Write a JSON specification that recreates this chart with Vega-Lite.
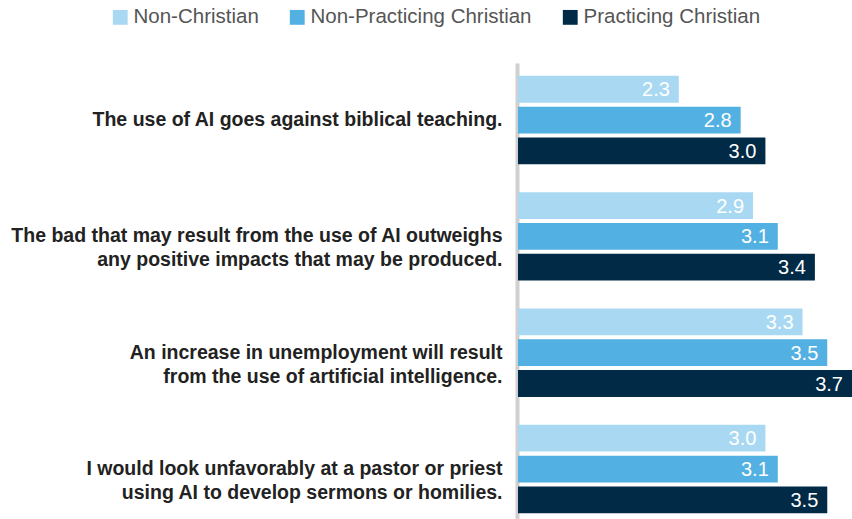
{
  "$schema": "https://vega.github.io/schema/vega-lite/v6.json",
  "width": 334,
  "height": 456,
  "autosize": "none",
  "padding": {"left": 518, "top": 63, "right": 0, "bottom": 0},
  "background": "white",
  "config": {"view": {"stroke": null}},
  "data": {
    "values": [
      {"question": "The use of AI goes against biblical teaching.", "group": "Non-Christian", "value": 2.3},
      {"question": "The use of AI goes against biblical teaching.", "group": "Non-Practicing Christian", "value": 2.8},
      {"question": "The use of AI goes against biblical teaching.", "group": "Practicing Christian", "value": 3.0},
      {"question": "The bad that may result from the use of AI outweighs|any positive impacts that may be produced.", "group": "Non-Christian", "value": 2.9},
      {"question": "The bad that may result from the use of AI outweighs|any positive impacts that may be produced.", "group": "Non-Practicing Christian", "value": 3.1},
      {"question": "The bad that may result from the use of AI outweighs|any positive impacts that may be produced.", "group": "Practicing Christian", "value": 3.4},
      {"question": "An increase in unemployment will result|from the use of artificial intelligence.", "group": "Non-Christian", "value": 3.3},
      {"question": "An increase in unemployment will result|from the use of artificial intelligence.", "group": "Non-Practicing Christian", "value": 3.5},
      {"question": "An increase in unemployment will result|from the use of artificial intelligence.", "group": "Practicing Christian", "value": 3.7},
      {"question": "I would look unfavorably at a pastor or priest|using AI to develop sermons or homilies.", "group": "Non-Christian", "value": 3.0},
      {"question": "I would look unfavorably at a pastor or priest|using AI to develop sermons or homilies.", "group": "Non-Practicing Christian", "value": 3.1},
      {"question": "I would look unfavorably at a pastor or priest|using AI to develop sermons or homilies.", "group": "Practicing Christian", "value": 3.5}
    ]
  },
  "encoding": {
    "y": {
      "field": "question",
      "type": "nominal",
      "sort": null,
      "scale": {"paddingInner": 0.24, "paddingOuter": 0.08, "align": 0.69},
      "axis": {
        "title": null,
        "ticks": false,
        "domain": true,
        "domainColor": "#d0d0d0",
        "domainWidth": 4,
        "offset": 1,
        "labelPadding": 15,
        "labelFont": "Liberation Sans",
        "labelFontWeight": "bold",
        "labelFontSize": 19.5,
        "labelLineHeight": 24,
        "labelColor": "#222222",
        "labelLimit": 600,
        "labelExpr": "split(datum.value, '|')"
      }
    },
    "yOffset": {
      "field": "group",
      "type": "nominal",
      "sort": ["Non-Christian", "Non-Practicing Christian", "Practicing Christian"],
      "scale": {"paddingInner": 0.13, "paddingOuter": 0}
    }
  },
  "layer": [
    {
      "mark": {"type": "bar"},
      "encoding": {
        "x": {
          "field": "value",
          "type": "quantitative",
          "scale": {"domain": [1, 3.7], "zero": false, "nice": false},
          "axis": null
        },
        "x2": {"datum": 1},
        "color": {
          "field": "group",
          "type": "nominal",
          "sort": ["Non-Christian", "Non-Practicing Christian", "Practicing Christian"],
          "scale": {
            "domain": ["Non-Christian", "Non-Practicing Christian", "Practicing Christian"],
            "range": ["#a9d9f2", "#53b0e3", "#002a45"]
          },
          "legend": {
            "title": null,
            "orient": "none",
            "direction": "horizontal",
            "legendX": -408,
            "legendY": -56,
            "symbolType": "square",
            "symbolSize": 220,
            "symbolStrokeWidth": 0,
            "symbolOpacity": 1,
            "labelFont": "Liberation Sans",
            "labelFontSize": 20.5,
            "labelColor": "#555555",
            "labelOffset": 3,
            "columnPadding": 28,
            "labelLimit": 400
          }
        }
      }
    },
    {
      "mark": {"type": "text", "align": "right", "baseline": "middle", "dx": -9, "dy": 1, "color": "white", "font": "Liberation Sans", "fontSize": 20},
      "encoding": {
        "x": {"field": "value", "type": "quantitative"},
        "text": {"field": "value", "type": "quantitative", "format": ".1f"}
      }
    }
  ]
}
